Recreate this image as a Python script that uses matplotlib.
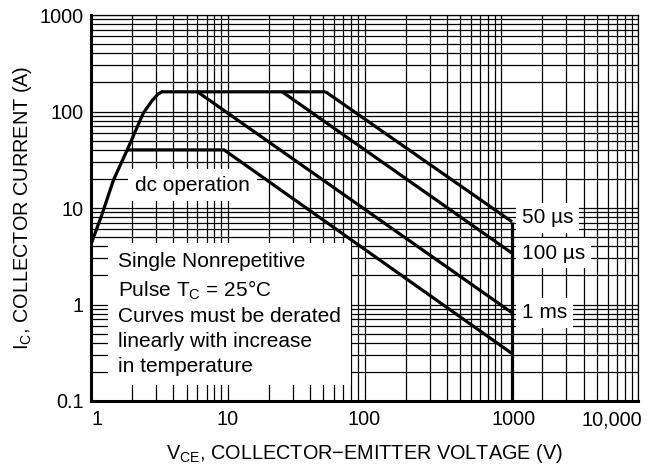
import matplotlib
matplotlib.use("Agg")
import matplotlib.pyplot as plt
import matplotlib.transforms as mtransforms

plt.rcParams['font.family'] = ['Liberation Sans', 'DejaVu Sans']
plt.rcParams['mathtext.fontset'] = 'custom'
plt.rcParams['mathtext.rm'] = 'Liberation Sans'
plt.rcParams['mathtext.it'] = 'Liberation Sans:italic'

# Safe operating area boundaries (V in volts, I in amps)
envelope_v = [1, 1.2, 1.46, 1.84, 2.41, 2.8, 3.1, 3.3, 52]
envelope_i = [4.2, 8.5, 19.5, 40, 96, 130, 152, 160, 160]

dc_v = [1.84, 9.4, 1200]
dc_i = [40, 40, 0.31]

ms1_v = [6, 1200]
ms1_i = [160, 0.82]

us100_v = [25, 1200]
us100_i = [160, 3.4]

us50_v = [52, 1200]
us50_i = [160, 7.2]

vmax_v = [1200, 1200]
vmax_i = [7.2, 0.1]

pulse_labels = ['50 µs', '100 µs', '1 ms']
pulse_label_i = [7.9, 3.4, 0.82]

x_ticks = [1, 10, 100, 1000, 10000]
x_tick_labels = ['1', '10', '100', '1000', '10,000']
y_ticks = [0.1, 1, 10, 100, 1000]
y_tick_labels = ['0.1', '1', '10', '100', '1000']

fig = plt.figure(figsize=(6.47, 4.68), dpi=100)
ax = fig.add_axes([91 / 647, 67 / 468, 547 / 647, 386 / 468])

ax.set_xscale('log')
ax.set_yscale('log')
ax.set_xlim(1, 10000)
ax.set_ylim(0.1, 1000)

# log grid, major and minor, all the same thin black
ax.set_axisbelow(True)
ax.grid(True, which='both', color='black', linewidth=0.9)

lw = 2.3
for v, i in [(envelope_v, envelope_i), (dc_v, dc_i), (ms1_v, ms1_i),
             (us100_v, us100_i), (us50_v, us50_i), (vmax_v, vmax_i)]:
    ax.plot(v, i, color='black', linewidth=lw, solid_capstyle='butt',
            solid_joinstyle='miter', zorder=4)

# spines: heavy left/bottom, light top/right
for side in ['left', 'bottom']:
    ax.spines[side].set_linewidth(2.2)
for side in ['top', 'right']:
    ax.spines[side].set_linewidth(0.9)

ax.set_xticks(x_ticks)
ax.set_xticklabels(x_tick_labels)
ax.set_yticks(y_ticks)
ax.set_yticklabels(y_tick_labels)
ax.tick_params(which='both', length=0, labelsize=14.3)
ax.tick_params(axis='x', pad=6.5)
ax.tick_params(axis='y', pad=5)

# nudge x tick labels sideways
x_shift_px = [6, 0, 0, 12, -26]
for lab, dx in zip(ax.get_xticklabels(), x_shift_px):
    lab.set_transform(lab.get_transform() +
                      mtransforms.ScaledTranslation(dx / 100, 0, fig.dpi_scale_trans))

ax.set_xlabel('V$_\\mathrm{CE}$, COLLECTOR−EMITTER VOLTAGE (V)', fontsize=14.3, labelpad=9)
ax.set_ylabel('I$_\\mathrm{C}$, COLLECTOR CURRENT (A)', fontsize=14.3, labelpad=4)

box = dict(facecolor='white', edgecolor='none', pad=4)

ax.text(2.1, 17.3, 'dc operation', fontsize=15, ha='left', va='center',
        bbox=dict(facecolor='white', edgecolor='none', pad=5), zorder=3)

note = ('Single Nonrepetitive\n'
        'Pulse T$_\\mathrm{C}$ = 25°C\n'
        'Curves must be derated\n'
        'linearly with increase\n'
        'in temperature')
ax.text(1.575, 0.183, note, fontsize=15, ha='left', va='bottom', linespacing=1.38,
        bbox=dict(facecolor='white', edgecolor='none', pad=7), zorder=3)

for lab, i in zip(pulse_labels, pulse_label_i):
    ax.text(1419, i, lab, fontsize=15, ha='left', va='center', bbox=box, zorder=3)

fig.savefig('out.png', dpi=100)
